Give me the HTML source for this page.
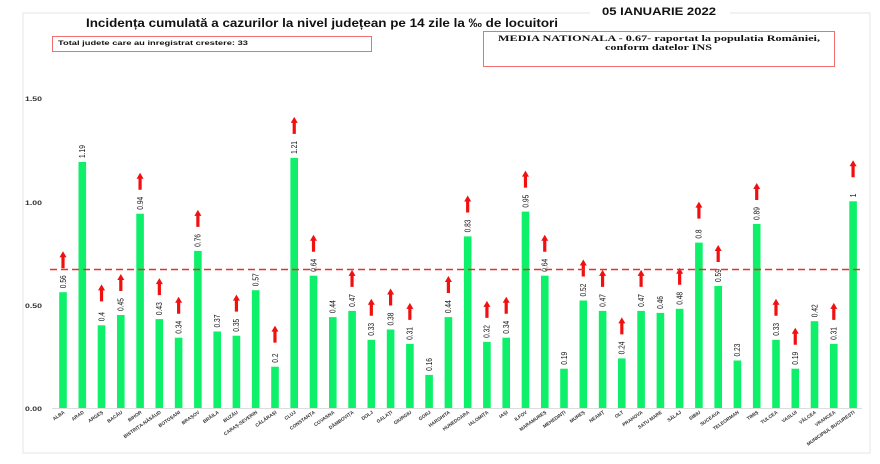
<!DOCTYPE html>
<html><head><meta charset="utf-8"><style>
html,body{margin:0;padding:0;background:#fff;width:880px;height:464px;overflow:hidden}
svg{display:block;font-family:"Liberation Sans",sans-serif}
</style></head><body>
<svg id="s" width="880" height="464" viewBox="0 0 880 464" xmlns="http://www.w3.org/2000/svg">
<rect x="23" y="13" width="847" height="440" fill="#fff" stroke="#e4e4e4" stroke-width="1"/>
<rect x="590" y="3" width="140" height="14" fill="#fff"/>
<text x="602" y="15" textLength="114" lengthAdjust="spacingAndGlyphs" font-size="11" font-weight="bold" fill="#111">05 IANUARIE 2022</text>
<text x="86" y="27" textLength="472" lengthAdjust="spacingAndGlyphs" font-size="12" font-weight="bold" fill="#111">Incidența cumulată a cazurilor la nivel județean pe 14 zile la ‰ de locuitori</text>
<rect x="52.5" y="36.5" width="319" height="15" fill="none" stroke="#f07070" stroke-width="1"/>
<text x="58" y="45" textLength="190" lengthAdjust="spacingAndGlyphs" font-size="6.3" font-weight="bold" fill="#111">Total judete care au inregistrat crestere: 33</text>
<rect x="483.5" y="31.5" width="351" height="35" fill="none" stroke="#f07070" stroke-width="1"/>
<text x="498" y="41" textLength="322" lengthAdjust="spacingAndGlyphs" font-family="Liberation Serif,serif" font-size="8" font-weight="bold" fill="#111">MEDIA NATIONALA - 0.67-  raportat la populatia  României,</text>
<text x="605" y="50" textLength="107" lengthAdjust="spacingAndGlyphs" font-family="Liberation Serif,serif" font-size="8" font-weight="bold" fill="#111">conform datelor INS</text>
<g font-size="6.5" font-weight="bold" fill="#333">
<text x="25" y="101" textLength="17" lengthAdjust="spacingAndGlyphs">1.50</text><text x="25" y="205" textLength="17" lengthAdjust="spacingAndGlyphs">1.00</text><text x="25" y="308" textLength="17" lengthAdjust="spacingAndGlyphs">0.50</text><text x="25" y="411" textLength="17" lengthAdjust="spacingAndGlyphs">0.00</text>
</g>
<line x1="52" y1="408.5" x2="862" y2="408.5" stroke="#ddd" stroke-width="1"/>
<g id="g"></g>
<line x1="50" y1="269.5" x2="862" y2="269.5" stroke="#e8312a" stroke-width="1.5" stroke-dasharray="7,4"/>
</svg>
<script>
var d=[["ALBA",.56,1],["ARAD",1.19,0],["ARGEȘ",.4,1],["BACĂU",.45,1],["BIHOR",.94,1],["BISTRIȚA-NĂSĂUD",.43,1],["BOTOȘANI",.34,1],["BRAȘOV",.76,1],["BRĂILA",.37,0],["BUZĂU",.35,1],["CARAȘ-SEVERIN",.57,0],["CĂLĂRAȘI",.2,1],["CLUJ",1.21,1],["CONSTANȚA",.64,1],["COVASNA",.44,0],["DÂMBOVIȚA",.47,1],["DOLJ",.33,1],["GALAȚI",.38,1],["GIURGIU",.31,1],["GORJ",.16,0],["HARGHITA",.44,1],["HUNEDOARA",.83,1],["IALOMIȚA",.32,1],["IAȘI",.34,1],["ILFOV",.95,1],["MARAMUREȘ",.64,1],["MEHEDINȚI",.19,0],["MUREȘ",.52,1],["NEAMȚ",.47,1],["OLT",.24,1],["PRAHOVA",.47,1],["SATU MARE",.46,0],["SĂLAJ",.48,1],["SIBIU",.8,1],["SUCEAVA",.59,1],["TELEORMAN",.23,0],["TIMIȘ",.89,1],["TULCEA",.33,1],["VASLUI",.19,1],["VÂLCEA",.42,0],["VRANCEA",.31,1],["MUNICIPIUL BUCUREȘTI",1,1]];
var h="";
d.forEach(function(e,i){
 var x=63+i*19.27,t=408-e[1]*206.7;
 h+='<rect x="'+(x-3.8).toFixed(1)+'" y="'+t.toFixed(1)+'" width="7.6" height="'+(408-t).toFixed(1)+'" fill="#0ef06a"/>';
 var ly=t-4;
 h+='<text transform="translate('+(x+2.8).toFixed(1)+','+ly.toFixed(1)+') rotate(-90) scale(0.78,1)" font-size="8.5" fill="#111">'+e[1]+'</text>';
 if(e[2]){var ab=t-24;
  h+='<polygon points="'+(x-1.6)+','+ab+' '+(x+1.6)+','+ab+' '+(x+1.6)+','+(ab-11)+' '+(x+3.5)+','+(ab-11)+' '+x+','+(ab-17)+' '+(x-3.5)+','+(ab-11)+' '+(x-1.6)+','+(ab-11)+'" fill="#f01010"/>';}
 h+='<text transform="translate('+(x+2).toFixed(1)+',413) rotate(-35)" text-anchor="end" font-size="4.8" font-weight="bold" fill="#333">'+e[0]+'</text>';
});
document.getElementById("g").innerHTML=h;
</script>
</body></html>
